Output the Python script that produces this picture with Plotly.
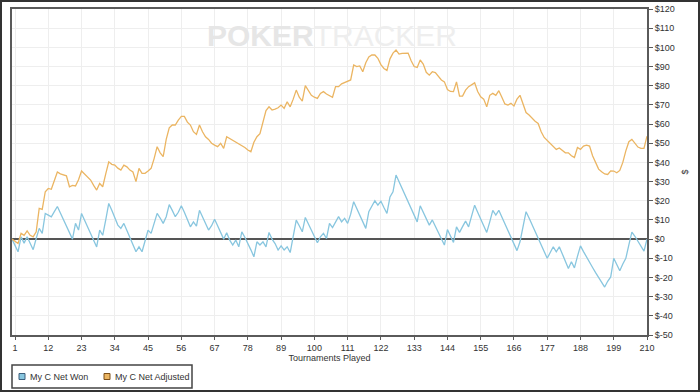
import plotly.graph_objects as go

# Tournaments index (0 = start)
tournaments = list(range(0, 211))

net_won = [
    0, -3.3, -6.6, 1.2, -2.1, 1.2, -2.1, -5.5, 0.3, 5.6,
    3, 13.4, 12.5, 11.6, 14.3, 17, 13.6, 10.2, 6.8, 3.4,
    0, 8.2, 4.7, 13.4, 9.9, 6.4, 2.9, -0.6, -4.1, 4.7,
    2, 10, 18.6, 15, 11, 7.3, 5.6, 8.2, 4.5, 0.8,
    -2.9, -6.6, -4, -6.6, -1, 4.7, 3, 8, 13.4, 11,
    8.2, 11.7, 18, 15, 11.7, 14, 17.4, 14, 10, 6.4,
    9, 6.8, 15, 11.6, 8.2, 4.7, 7, 10.4, 7, 3.5,
    0, 3.3, -0.5, -3.1, -0.5, -4, 3.8, 1, -2, -5.6,
    -9.2, -1.4, -3.1, -1.4, -4, 3.5, 0, -2.3, -5.7, -3.5,
    -5.7, -4, -7, 2, 9.9, 7, 3.8, 11.3, 8, 4.4,
    1.2, -1.9, 1.2, 3, 0.3, 8.2, 6, 9, 11.7, 9,
    10.8, 8.2, 13, 19.5, 16, 12.5, 9, 5.6, 14.3, 17,
    20, 17.7, 19.8, 16.5, 13.4, 22, 24.7, 33.4, 30, 26.5,
    23, 19.5, 16, 12.5, 9, 17.4, 14, 10.5, 7.3, 10,
    6.5, 3, 0, -3.1, 5, 1.2, -1.7, 6.4, 3.5, 6.5,
    9.4, 6.4, 12, 17.7, 14, 10.5, 7, 3.5, 9, 15,
    12.5, 15, 11.5, 8, 4.5, 1, -2.5, -6, -1.4, 7,
    14.3, 11, 7.5, 4, 0.5, -3, -6.5, -10, -7, -4,
    -6.6, -4, -7.7, -11.5, -15.3, -11.8, -15, -9, -3.5, -6.5,
    -9.5, -12, -14.8, -17.5, -20, -22.5, -25, -22, -19.7, -10,
    -13, -16.5, -13, -10, -3, 3.6, 1.5, -1, -3.5, -6.3,
    0,
]

net_adjusted = [
    0, -1, -2.3, 3, 2, 4.3, 2, 1.2, 3.8, 16,
    15.5, 24.7, 26.4, 26, 30, 35, 34, 33.4, 33, 27.3,
    28, 27.7, 31, 35.5, 34, 32.5, 30.8, 28, 25.6, 29,
    27.3, 34, 40.3, 39, 38.6, 37, 36, 38.6, 37.7, 36,
    35, 30, 36.9, 34.3, 34.3, 35.5, 36.9, 42, 48.2, 45,
    43, 52, 58, 59.5, 59.5, 62, 64, 64, 61, 59.5,
    56, 54.6, 59.5, 56, 53.4, 52, 50, 49, 48.2, 50,
    47.3, 53.4, 52.5, 51.5, 50.5, 50, 49, 47.8, 46.5, 45.6,
    50.5, 53.4, 55, 61, 67, 69, 67.3, 67.8, 68.5, 69.9,
    68.2, 71.6, 69, 73, 77.7, 74, 72, 80, 77.7, 75,
    74, 73.4, 76, 76.9, 75.7, 74.7, 74, 79.5, 79.5, 81,
    81.7, 82.6, 83, 90.8, 90, 90.3, 87.3, 92, 95, 96,
    96, 94.3, 91, 89, 88, 94, 97, 98.6, 96.5, 96.9,
    97, 97, 93, 90, 89.5, 93.4, 91.3, 87, 85.5, 87.3,
    86.8, 85, 83, 82, 78, 77, 76.9, 82, 74.6, 74.6,
    77.7, 79.5, 80.7, 81.5, 77, 74.2, 73, 69, 75, 76,
    75, 77.4, 74, 70.5, 69.9, 70.8, 69.4, 73, 75, 70,
    66, 64.7, 63, 61.5, 60.3, 56, 53, 51.5, 50, 48.5,
    46.8, 47.5, 46, 45, 45, 43.5, 42.6, 47.8, 46.8, 48.5,
    49, 48.5, 43.5, 40, 36.5, 35.1, 34, 33.7, 35.6, 35.5,
    34.6, 35.8, 40, 46, 50.8, 52, 50, 48, 47.3, 47.3,
    53.7,
]

x_tick_vals = list(range(1, 211, 11))
y_tick_vals = list(range(-50, 121, 10))
y_tick_text = [f"${v}" for v in y_tick_vals]

series_names = ["My C Net Won", "My C Net Adjusted"]
series_colors = ["#88c6df", "#ebb562"]
legend_edge_colors = ["#3d5f7d", "#7d4f18"]

FONT = "Liberation Sans, Arial, sans-serif"
FS = 9
W, H = 700, 392
ML, MR, MT, MB = 12, 53, 9, 57
PW, PH = W - ML - MR, H - MT - MB


def px_x(p):
    return (p - ML) / PW


def px_y(p):
    return (H - MB - p) / PH


fig = go.Figure()
for name, vals, col in zip(series_names, [net_won, net_adjusted], series_colors):
    fig.add_trace(go.Scatter(x=tournaments, y=vals, mode="lines", name=name,
                             line=dict(color=col, width=1.3), showlegend=False))

# Manual legend (box, swatches, labels) placed below the plot
legend_square_x = [19, 104]
legend_text_x = [28, 113]
shapes = [
    dict(type="rect", xref="paper", yref="paper",
         x0=px_x(1), x1=px_x(W - 1), y0=px_y(H - 1), y1=px_y(1),
         line=dict(color="#333333", width=2), layer="below"),
    dict(type="rect", xref="paper", yref="paper",
         x0=px_x(12), x1=px_x(192), y0=px_y(388), y1=px_y(365),
         line=dict(color="#444444", width=1.5), fillcolor="white"),
]
annotations = [
    dict(xref="paper", yref="paper", x=px_x(332), y=px_y(36),
         xanchor="center", yanchor="middle", showarrow=False,
         text="<b>POKER</b><span style='color:#eeeeee'>TRACKER</span>",
         font=dict(family=FONT, size=30, color="#e6e6e6")),
]
for name, col, ec, sx, tx in zip(series_names, series_colors, legend_edge_colors,
                                 legend_square_x, legend_text_x):
    shapes.append(dict(type="rect", xref="paper", yref="paper",
                       x0=px_x(sx), x1=px_x(sx + 6), y0=px_y(379.5), y1=px_y(373.5),
                       line=dict(color=ec, width=1), fillcolor=col))
    annotations.append(dict(xref="paper", yref="paper", x=px_x(tx), y=px_y(376.5),
                            xanchor="left", yanchor="middle", showarrow=False,
                            text=name, font=dict(family=FONT, size=FS, color="#333333")))

fig.update_layout(
    width=W, height=H,
    margin=dict(l=ML, r=MR, t=MT, b=MB, pad=0),
    paper_bgcolor="white", plot_bgcolor="white",
    font=dict(family=FONT, size=FS, color="#333333"),
    showlegend=False,
    xaxis=dict(range=[0, 210], tickmode="array", tickvals=x_tick_vals,
               showgrid=True, gridcolor="#eeeeee", gridwidth=1,
               showline=True, linecolor="#5a5a5a", linewidth=2, mirror=True,
               ticks="outside", ticklen=3, tickcolor="#5a5a5a",
               zeroline=False, automargin=False,
               title=dict(text="Tournaments Played", standoff=3,
                          font=dict(family=FONT, size=FS, color="#333333")),
               tickfont=dict(family=FONT, size=FS, color="#333333")),
    yaxis=dict(range=[-50, 120], side="right", tickmode="array",
               tickvals=y_tick_vals, ticktext=y_tick_text,
               showgrid=True, gridcolor="#eeeeee", gridwidth=1,
               showline=True, linecolor="#5a5a5a", linewidth=2, mirror=True,
               ticks="outside", ticklen=4, tickcolor="#5a5a5a",
               zeroline=True, zerolinecolor="#555555", zerolinewidth=1.5,
               automargin=False,
               title=dict(text="$", standoff=8,
                          font=dict(family=FONT, size=FS, color="#333333")),
               tickfont=dict(family=FONT, size=FS, color="#333333")),
    annotations=annotations,
    shapes=shapes,
)

fig.write_html("out.html", config={"displayModeBar": False},
               post_script="document.body.style.margin='0';document.body.style.padding='0';")
